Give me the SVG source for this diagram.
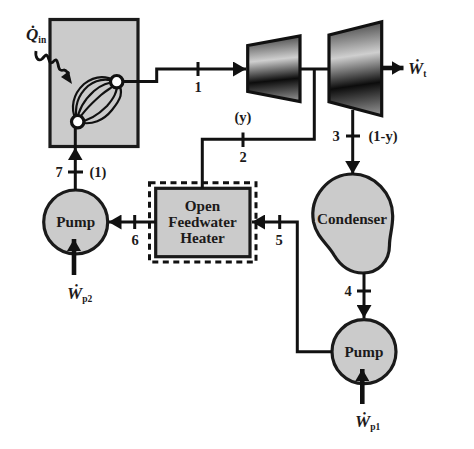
<svg xmlns="http://www.w3.org/2000/svg" width="474" height="449" viewBox="0 0 474 449">
<style>
text{font-family:"Liberation Serif","DejaVu Serif",serif;font-weight:bold;fill:#1c1a1a;text-anchor:middle}
.l{font-size:14.5px}
.n{font-size:15.2px}
.v{font-size:17px;font-style:italic;text-anchor:start}
.s{font-size:9.500px;font-style:normal}
.sh{fill:#cbcbcb;stroke:#1a1a1a;stroke-width:3.200}
.c{fill:none;stroke:#111;stroke-width:3}
.w{fill:none;stroke:#111;stroke-width:4.600}
.t{fill:url(#g);stroke:#111;stroke-width:3.200}
.coil{fill:none;stroke:#111;stroke-width:2.200}
.dot{fill:#fff;stroke:#111;stroke-width:3.200}
</style>
<defs>
<linearGradient id="g" x1="0.46" y1="0" x2="0.54" y2="1">
<stop offset="0" stop-color="#444"/>
<stop offset="0.36" stop-color="#cfcfcf"/>
<stop offset="0.68" stop-color="#0c0c0c"/>
<stop offset="1" stop-color="#8a8a8a"/>
</linearGradient>
<marker id="a" markerUnits="userSpaceOnUse" viewBox="0 0 13 15" refX="13" refY="7.500" markerWidth="13" markerHeight="15" orient="auto"><path d="M0 0L13 7.500L0 15Z" fill="#111"/></marker>
<marker id="b" markerUnits="userSpaceOnUse" viewBox="0 0 12 14" refX="12" refY="7" markerWidth="12" markerHeight="14" orient="auto"><path d="M0 0L12 7L0 14Z" fill="#111"/></marker>
</defs>
<g id="boiler">
<rect class="sh" x="50" y="19.500" width="88" height="127"/>
<path class="coil" d="M76 120C70 108 73 94 84 84C94 76 105 75 116 81"/>
<path class="coil" d="M77 121C74 107 78 95 88 86C97 79 107 78 117 82"/>
<path class="coil" d="M77 122C78 109 84 100 94 91C102 84 110 82 117 82"/>
<path class="coil" d="M78 122C80 115 92 103 101 95C108 89 114 87 117 82"/>
<path class="coil" d="M78 122C90 121 99 114 107 106C113 99 118 92 117 82"/>
<path class="coil" d="M78 122C92 126 104 120 112 110C120 100 125 92 117 82"/>
<circle class="dot" cx="116.700" cy="81.700" r="6.200"/>
<circle class="dot" cx="77.700" cy="121.700" r="6.200"/>
</g>
<g id="turbine-1"><path class="t" d="M247.700 45.500L300 36V101.500L247.700 91.500Z"/></g>
<g id="turbine-2"><path class="t" d="M329 35L381.700 21.700V115.700L329 101.700Z"/></g>
<g id="condenser">
<path class="sh" d="M352.700 174C374 174 392.700 193 392.700 216C392.700 228 389.500 236 389.500 245C389.500 262 378 273 363 273C349 273 340 265 334 255C328 244 317 238 313.500 222C309 196 329 174 352.700 174Z"/>
<text class="n" x="352" y="224">Condenser</text>
</g>
<g id="heater">
<rect x="149.500" y="182.700" width="106.500" height="79.300" fill="none" stroke="#111" stroke-width="3" stroke-dasharray="6 4.500"/>
<rect class="sh" x="155.700" y="188.300" width="94.300" height="68.400"/>
<text class="n" x="202.500" y="210.500">Open</text>
<text class="n" x="202.500" y="227">Feedwater</text>
<text class="n" x="202.500" y="243">Heater</text>
</g>
<g id="pump-2"><circle class="sh" cx="75.700" cy="222" r="32"/><text class="n" x="75.700" y="227">Pump</text></g>
<g id="pump-1"><circle class="sh" cx="364" cy="351.700" r="32"/><text class="n" x="364" y="356.500">Pump</text></g>
<g id="connectors">
<path class="c" d="M123 81.500H156.700V69H246" marker-end="url(#a)"/>
<path class="c" d="M300 69H329"/>
<path class="c" d="M314.300 69V139.300H202.300V188.300"/>
<path class="c" d="M352.700 110V174" marker-end="url(#a)"/>
<path class="c" d="M364 273V318" marker-end="url(#a)"/>
<path class="c" d="M332 351.700H297.300V222H252" marker-end="url(#a)"/>
<path class="c" d="M155.700 222H108.500" marker-end="url(#a)"/>
<path class="c" d="M75.300 190V128"/>
<path d="M68 160L75.300 147.500L82.500 160Z" fill="#111"/>
<path class="w" d="M382 68H403.500" marker-end="url(#b)"/>
<path class="w" d="M362.300 404V369" marker-end="url(#b)"/>
<path class="w" d="M74 275V239" marker-end="url(#b)"/>
<path class="c" d="M198 62V76M243 132.500V147M346 136H360M357 291H371M279.700 215V229M134.700 215V229M68 172H83"/>
<path d="M36 51C35 57 38 62 42 59C46 55 46 53 48 57C50 63 50 64 53 62C56 58 57 60 58 64C59 70 60 71 64 70C66 70 67 72 69 74" fill="none" stroke="#111" stroke-width="2.800"/>
<path d="M61 77L72 84L69 71Z" fill="#111"/>
</g>
<g id="labels">
<text class="l" x="198" y="92">1</text>
<text class="l" x="243" y="122">(y)</text>
<text class="l" x="243" y="162">2</text>
<text class="l" x="336" y="141">3</text>
<text class="l" x="383" y="141">(1-y)</text>
<text class="l" x="348" y="296">4</text>
<text class="l" x="279" y="244.500">5</text>
<text class="l" x="135" y="244.500">6</text>
<text class="l" x="59" y="177">7</text>
<text class="l" x="98" y="177">(1)</text>
<text class="v" x="408" y="74">Ẇ<tspan class="s" dy="3">t</tspan></text>
<text class="v" x="355" y="427">Ẇ<tspan class="s" dy="3">p1</tspan></text>
<text class="v" x="67" y="299">Ẇ<tspan class="s" dy="3">p2</tspan></text>
<text class="v" x="26" y="40">Q̇<tspan class="s" dy="3">in</tspan></text>
</g>
</svg>
